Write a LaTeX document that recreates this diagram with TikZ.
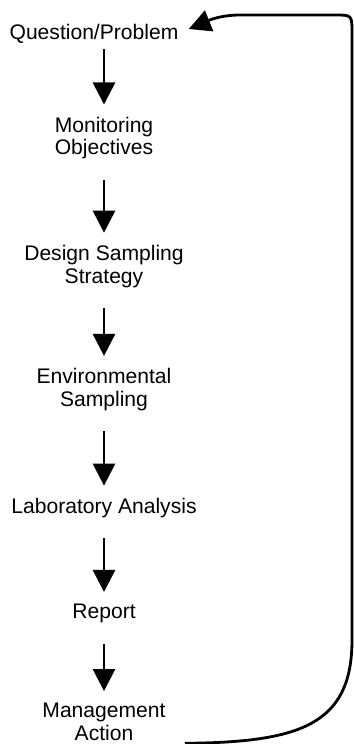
\documentclass[tikz,border=0pt]{standalone}
\usepackage{fontspec}
\setmainfont{Liberation Sans}
\usetikzlibrary{arrows.meta, positioning}
\tikzset{
  stage/.style = {align=center, inner sep=0pt, font=\fontsize{12}{13}\selectfont},
  arr/.style   = {-{Triangle[length=0.44cm,width=0.44cm]}, line width=1.6pt,
                  shorten <=0.4cm, shorten >=0.24cm},
}
\begin{document}
\begin{tikzpicture}

  \useasboundingbox (0,0) rectangle (7.08,-14.88);

  \node[stage] (qp) at (1.88,-0.68) {Question/Problem};
  \node[stage, below=1.45cm of qp, xshift=0.2cm] (mon)  {Monitoring\\Objectives};
  \node[stage, below=1.70cm of mon]               (dss)  {Design Sampling\\Strategy};
  \node[stage, below=1.60cm of dss]               (env)  {Environmental\\Sampling};
  \node[stage, below=1.73cm of env]               (lab)  {Laboratory Analysis};
  \node[stage, below=1.72cm of lab]               (rep)  {Report};
  \node[stage, below=1.59cm of rep]               (mgmt) {Management\\Action};

  \draw[arr, shorten <=0.1cm] (qp.south -| mon) -- (mon);
  \draw[arr] (mon) -- (dss);
  \draw[arr] (dss) -- (env);
  \draw[arr] (env) -- (lab);
  \draw[arr] (lab) -- (rep);
  \draw[arr] (rep) -- (mgmt);

  % feedback loop back to the start
  \coordinate (br) at (7.04,-12.8);
  \coordinate (tr) at (7.04,-0.7);
  \coordinate (tl) at (4.8,-0.3);
  \draw[arr, shorten <=0pt, shorten >=0pt]
    ([xshift=0.38cm, yshift=-0.04cm]mgmt.south east)
      .. controls +(2.3,0.02) and +(0,-1.7) .. (br)
    -- (tr) .. controls +(0,0.4) and +(0.35,0) .. (6.7,-0.3)
    -- (tl) .. controls +(-0.5,0) and +(0.25,0.1) .. ([xshift=0.2cm, yshift=0.1cm]qp.east);

\end{tikzpicture}
\end{document}
